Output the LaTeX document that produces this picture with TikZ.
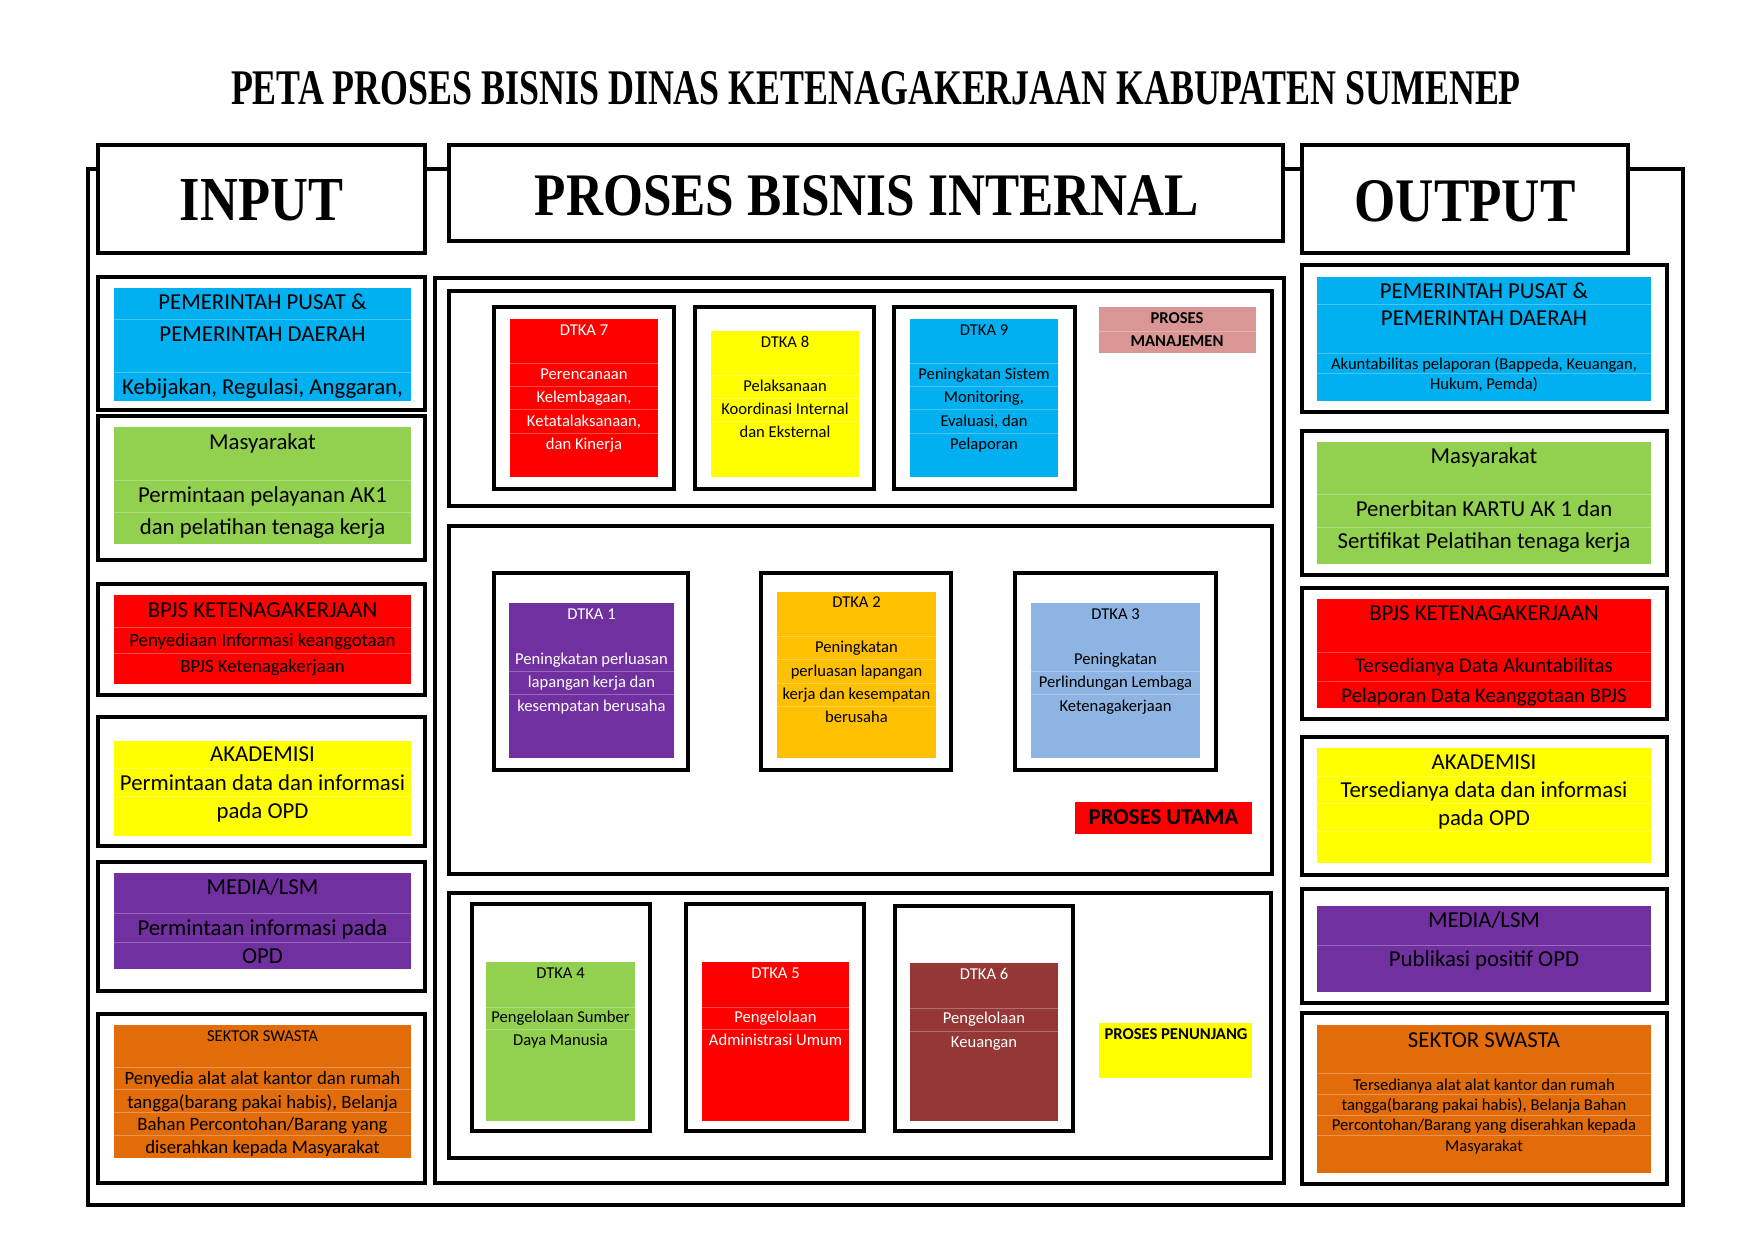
\documentclass[tikz,border=0pt]{standalone}
\usepackage{fontspec}
\usepackage{graphicx}
\setmainfont{Carlito}
\newfontfamily\headfont{Liberation Serif}
\definecolor{ccyan}{HTML}{00B0F0}
\definecolor{cgreen}{HTML}{92D050}
\definecolor{cred}{HTML}{FF0000}
\definecolor{cyel}{HTML}{FFFF00}
\definecolor{cpurp}{HTML}{7030A0}
\definecolor{corng}{HTML}{E26B0A}
\definecolor{cgold}{HTML}{FFC000}
\definecolor{clblue}{HTML}{8DB4E2}
\definecolor{cbrown}{HTML}{953735}
\definecolor{cpink}{HTML}{DA9694}
\tikzset{
  frameln/.style={draw=black,line width=1.75pt},
  panel/.style={draw=black,line width=1.75pt,fill=white},
  blk/.style={draw=black,line width=2pt,fill=white},
  sepln/.style={line width=0.5pt},
  hd/.style={inner sep=0pt,anchor=center,text depth=0pt},
  tA/.style={font=\fontsize{11.4}{13}\selectfont,text height=7.34pt,text depth=0pt,inner sep=0pt,anchor=center},
  tB/.style={font=\fontsize{10.4}{12}\selectfont,text height=6.7pt,text depth=0pt,inner sep=0pt,anchor=center},
  tC/.style={font=\fontsize{9.4}{11}\selectfont,text height=6.05pt,text depth=0pt,inner sep=0pt,anchor=center},
  tD/.style={font=\fontsize{8.3}{10}\selectfont,text height=5.35pt,text depth=0pt,inner sep=0pt,anchor=center},
  tAb/.style={tA,font=\fontsize{11.4}{13}\selectfont\bfseries},
  tDb/.style={tD,font=\fontsize{8.3}{10}\selectfont\bfseries},
  wht/.style={text=white},
}
\newcommand\cellfill[5]{\fill[#1] (#2,#3) rectangle (#4,#5);}
\newcommand\seps[4]{\foreach \yy in {#4}{\draw[sepln,draw=#1!72!white] (#2,\yy) -- (#3,\yy);}}
\begin{document}
\begin{tikzpicture}[x=0.5pt,y=-0.5pt]
\useasboundingbox (0,0) rectangle (1755,1241);
\fill[white] (0,0) rectangle (1755,1241);

% title
\node[hd] (title) at (876,88) {\resizebox{645pt}{16.5pt}{\headfont\bfseries PETA PROSES BISNIS DINAS KETENAGAKERJAAN KABUPATEN SUMENEP}};

% outer frame
\draw[frameln] (88,169) rectangle (1683,1205);

% headers
\draw[panel] (98,145) rectangle (425,253);
\node[hd] (hin) at (261.5,200) {\resizebox{81.5pt}{20.5pt}{\headfont\bfseries INPUT}};
\draw[panel] (449,145) rectangle (1283,241);
\node[hd] (hmid) at (867,195) {\resizebox{332pt}{20pt}{\headfont\bfseries PROSES BISNIS INTERNAL}};
\draw[panel] (1302,145) rectangle (1628,253);
\node[hd] (hout) at (1465,201) {\resizebox{110.5pt}{20.5pt}{\headfont\bfseries OUTPUT}};

% ================= INPUT column =================
\draw[blk] (98,277) rectangle (425,410);
\cellfill{ccyan}{114}{288}{411}{401}
\seps{ccyan}{114}{411}{319,372}
\node[tA] (i1a) at (262.5,302) {PEMERINTAH PUSAT \&};
\node[tA] (i1b) at (262.5,334) {PEMERINTAH DAERAH};
\node[tA] (i1c) at (262.5,387) {Kebijakan, Regulasi, Anggaran,};

\draw[blk] (98,416) rectangle (425,560);
\cellfill{cgreen}{114}{427}{411}{544}
\seps{cgreen}{114}{411}{480,512}
\node[tA] (i2a) at (262.5,442) {Masyarakat};
\node[tA] (i2b) at (262.5,495) {Permintaan pelayanan AK1};
\node[tA] (i2c) at (262.5,527) {dan pelatihan tenaga kerja};

\draw[blk] (98,584) rectangle (425,695);
\cellfill{cred}{114}{595}{411}{684}
\seps{cred}{114}{411}{627,653}
\node[tA] (i3a) at (262.5,610) {BPJS KETENAGAKERJAAN};
\node[tC] (i3b) at (262.5,640) {Penyediaan Informasi keanggotaan};
\node[tC] (i3c) at (262.5,666) {BPJS Ketenagakerjaan};

\draw[blk] (98,717) rectangle (425,846);
\cellfill{cyel}{114}{741}{411}{836}
\seps{cyel}{114}{411}{768,796}
\node[tA] (i4a) at (262.5,754) {AKADEMISI};
\node[tA] (i4b) at (262.5,783) {Permintaan data dan informasi};
\node[tA] (i4c) at (262.5,811) {pada OPD};

\draw[blk] (98,862) rectangle (425,991);
\cellfill{cpurp}{114}{873}{411}{969}
\seps{cpurp}{114}{411}{913,942}
\node[tA] (i5a) at (262.5,887) {MEDIA/LSM};
\node[tA] (i5b) at (262.5,928) {Permintaan informasi pada};
\node[tA] (i5c) at (262.5,956) {OPD};

\draw[blk] (98,1014) rectangle (425,1183);
\cellfill{corng}{114}{1025}{411}{1158}
\seps{corng}{114}{411}{1067,1089,1112,1135}
\node[tD] (i6a) at (262.5,1036) {SEKTOR SWASTA};
\node[tC] (i6b) at (262.5,1078) {Penyedia alat alat kantor dan rumah};
\node[tC] (i6c) at (262.5,1102) {tangga(barang pakai habis), Belanja};
\node[tC] (i6d) at (262.5,1124) {Bahan Percontohan/Barang yang};
\node[tC] (i6e) at (262.5,1147) {diserahkan kepada Masyarakat};

% ================= OUTPUT column =================
\draw[blk] (1302,265) rectangle (1667,412);
\cellfill{ccyan}{1317}{277}{1651}{401}
\seps{ccyan}{1317}{1651}{304,353,373}
\node[tA] (o1a) at (1484,291) {PEMERINTAH PUSAT \&};
\node[tA] (o1b) at (1484,318) {PEMERINTAH DAERAH};
\node[tD] (o1c) at (1484,364) {Akuntabilitas pelaporan (Bappeda, Keuangan,};
\node[tD] (o1d) at (1484,384) {Hukum, Pemda)};

\draw[blk] (1302,431) rectangle (1667,575);
\cellfill{cgreen}{1317}{442}{1651}{564}
\seps{cgreen}{1317}{1651}{494,527}
\node[tA] (o2a) at (1484,456) {Masyarakat};
\node[tA] (o2b) at (1484,509) {Penerbitan KARTU AK 1 dan};
\node[tA] (o2c) at (1484,541) {Sertifikat Pelatihan tenaga kerja};

\draw[blk] (1302,588) rectangle (1667,719);
\cellfill{cred}{1317}{599}{1651}{708}
\seps{cred}{1317}{1651}{652,681}
\node[tA] (o3a) at (1484,613) {BPJS KETENAGAKERJAAN};
\node[tB] (o3b) at (1484,666) {Tersedianya Data Akuntabilitas};
\node[tB] (o3c) at (1484,696) {Pelaporan Data Keanggotaan BPJS};

\draw[blk] (1302,737) rectangle (1667,875);
\cellfill{cyel}{1317}{748}{1651}{863}
\seps{cyel}{1317}{1651}{776,803,831}
\node[tA] (o4a) at (1484,762) {AKADEMISI};
\node[tA] (o4b) at (1484,790) {Tersedianya data dan informasi};
\node[tA] (o4c) at (1484,818) {pada OPD};

\draw[blk] (1302,889) rectangle (1667,1003);
\cellfill{cpurp}{1317}{906}{1651}{992}
\seps{cpurp}{1317}{1651}{945}
\node[tA] (o5a) at (1484,920) {MEDIA/LSM};
\node[tA] (o5b) at (1484,959) {Publikasi positif OPD};

\draw[blk] (1302,1013) rectangle (1667,1184);
\cellfill{corng}{1317}{1025}{1651}{1173}
\seps{corng}{1317}{1651}{1073,1094,1115,1135}
\node[tA] (o6a) at (1484,1040) {SEKTOR SWASTA};
\node[tD] (o6b) at (1484,1085) {Tersedianya alat alat kantor dan rumah};
\node[tD] (o6c) at (1484,1105) {tangga(barang pakai habis), Belanja Bahan};
\node[tD] (o6d) at (1484,1125) {Percontohan/Barang yang diserahkan kepada};
\node[tD] (o6e) at (1484,1146) {Masyarakat};

% ================= MIDDLE =================
\draw[panel] (435,278) rectangle (1284,1183);
\draw[panel] (449,291) rectangle (1272,506);
\draw[panel] (449,526) rectangle (1272,874);
\draw[panel] (449,893) rectangle (1271,1158);

% --- management row
\draw[blk] (494,307) rectangle (674,489);
\cellfill{cred}{510}{319}{658}{477}
\seps{cred}{510}{658}{363,386,409,433}
\node[tD,wht] (d7a) at (584,330) {DTKA 7};
\node[tD,wht] (d7b) at (584,374) {Perencanaan};
\node[tD,wht] (d7c) at (584,397) {Kelembagaan,};
\node[tD,wht] (d7d) at (584,421) {Ketatalaksanaan,};
\node[tD,wht] (d7e) at (584,444) {dan Kinerja};

\draw[blk] (695,307) rectangle (874,489);
\cellfill{cyel}{711}{331}{859}{477}
\seps{cyel}{711}{859}{375,398,421}
\node[tD] (d8a) at (785,342) {DTKA 8};
\node[tD] (d8b) at (785,386) {Pelaksanaan};
\node[tD] (d8c) at (785,409) {Koordinasi Internal};
\node[tD] (d8d) at (785,432) {dan Eksternal};

\draw[blk] (894,307) rectangle (1075,489);
\cellfill{ccyan}{910}{319}{1058}{477}
\seps{ccyan}{910}{1058}{363,386,409,433}
\node[tD] (d9a) at (984,330) {DTKA 9};
\node[tD] (d9b) at (984,374) {Peningkatan Sistem};
\node[tD] (d9c) at (984,397) {Monitoring,};
\node[tD] (d9d) at (984,421) {Evaluasi, dan};
\node[tD] (d9e) at (984,444) {Pelaporan};

\cellfill{cpink}{1099}{307}{1256}{353}
\seps{cpink}{1099}{1256}{331}
\node[tDb] (pm1) at (1177,318) {PROSES};
\node[tDb] (pm2) at (1177,341) {MANAJEMEN};

% --- main row
\draw[blk] (494,573) rectangle (688,770);
\cellfill{cpurp}{509}{603}{674}{758}
\seps{cpurp}{509}{674}{671,694}
\node[tD,wht] (d1a) at (591.5,614) {DTKA 1};
\node[tD,wht] (d1b) at (591.5,659) {Peningkatan perluasan};
\node[tD,wht] (d1c) at (591.5,682) {lapangan kerja dan};
\node[tD,wht] (d1d) at (591.5,706) {kesempatan berusaha};

\draw[blk] (761,573) rectangle (951,770);
\cellfill{cgold}{777}{592}{936}{758}
\seps{cgold}{777}{936}{636,659,683,706}
\node[tD] (d2a) at (856.5,602) {DTKA 2};
\node[tD] (d2b) at (856.5,647) {Peningkatan};
\node[tD] (d2c) at (856.5,671) {perluasan lapangan};
\node[tD] (d2d) at (856.5,694) {kerja dan kesempatan};
\node[tD] (d2e) at (856.5,717) {berusaha};

\draw[blk] (1015,573) rectangle (1216,770);
\cellfill{clblue}{1031}{603}{1200}{758}
\seps{clblue}{1031}{1200}{671,694}
\node[tD] (d3a) at (1115.5,614) {DTKA 3};
\node[tD] (d3b) at (1115.5,659) {Peningkatan};
\node[tD] (d3c) at (1115.5,682) {Perlindungan Lembaga};
\node[tD] (d3d) at (1115.5,706) {Ketenagakerjaan};

\cellfill{cred}{1075}{802}{1252}{834}
\node[tAb] (pu) at (1163.5,817) {PROSES UTAMA};

% --- support row
\draw[blk] (472,904) rectangle (650,1131);
\cellfill{cgreen}{486}{962}{635}{1121}
\seps{cgreen}{486}{635}{1007,1029}
\node[tD] (d4a) at (560.5,973) {DTKA 4};
\node[tD] (d4b) at (560.5,1017) {Pengelolaan Sumber};
\node[tD] (d4c) at (560.5,1040) {Daya Manusia};

\draw[blk] (686,904) rectangle (864,1131);
\cellfill{cred}{702}{962}{849}{1121}
\seps{cred}{702}{849}{1007,1029}
\node[tD,wht] (d5a) at (775.5,973) {DTKA 5};
\node[tD,wht] (d5b) at (775.5,1017) {Pengelolaan};
\node[tD,wht] (d5c) at (775.5,1040) {Administrasi Umum};

\draw[blk] (895,906) rectangle (1073,1131);
\cellfill{cbrown}{910}{963}{1058}{1121}
\seps{cbrown}{910}{1058}{1008,1031}
\node[tD,wht] (d6a) at (984,974) {DTKA 6};
\node[tD,wht] (d6b) at (984,1018) {Pengelolaan};
\node[tD,wht] (d6c) at (984,1042) {Keuangan};

\cellfill{cyel}{1099}{1023}{1252}{1078}
\node[tDb] (pp) at (1176,1034) {PROSES PENUNJANG};
\end{tikzpicture}
\end{document}
